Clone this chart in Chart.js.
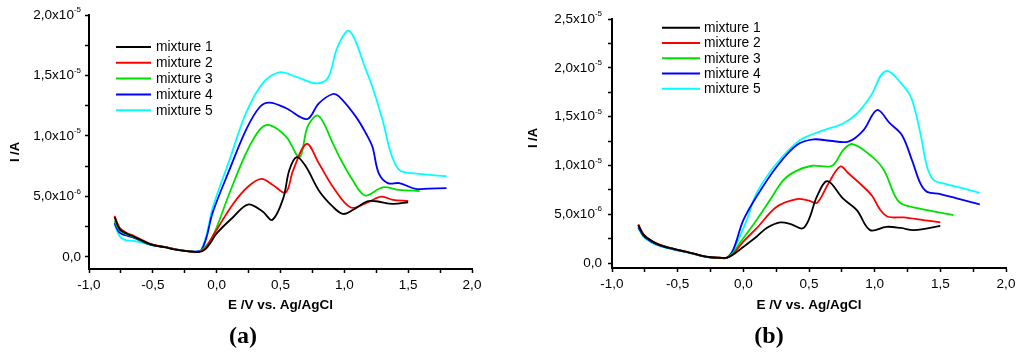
<!DOCTYPE html>
<html>
<head>
<meta charset="utf-8">
<script src="https://cdn.jsdelivr.net/npm/chart.js@4/dist/chart.umd.min.js"></script>
<style>
  html, body { margin: 0; padding: 0; background: #fff; }
  #wrap { position: relative; width: 1024px; height: 357px; overflow: hidden; }
  canvas { position: absolute; top: 0; }
  #ca { left: 0; }
  #cb { left: 512px; }
</style>
</head>
<body>
<div id="wrap">
  <canvas id="ca" width="512" height="357"></canvas>
  <canvas id="cb" width="512" height="357"></canvas>
</div>
<script>
// ---------- DATA (E in V vs Ag/AgCl, I in units of 1e-6 A) ----------
const seriesNames = ['mixture 1', 'mixture 2', 'mixture 3', 'mixture 4', 'mixture 5'];
const seriesColors = ['#000000', '#ff0000', '#00e000', '#0000ff', '#00ffff'];

// Panel (a)
const aE1 = [-0.80, -0.76, -0.70, -0.65, -0.52, -0.40, -0.31, -0.22, -0.14, -0.09, -0.04, 0.00, 0.13, 0.245, 0.36, 0.435, 0.52, 0.57, 0.628, 0.70, 0.80, 0.91, 0.99, 1.07, 1.18, 1.25, 1.38, 1.50];
const aI1 = [3.3, 2.3, 1.9, 1.68, 1.05, 0.78, 0.58, 0.46, 0.40, 0.62, 1.30, 1.95, 3.30, 4.33, 3.75, 3.06, 4.80, 7.20, 8.25, 7.45, 5.50, 4.15, 3.55, 3.90, 4.60, 4.60, 4.38, 4.52];
const aE2 = [-0.80, -0.76, -0.70, -0.65, -0.52, -0.40, -0.31, -0.22, -0.14, -0.09, -0.04, 0.00, 0.13, 0.245, 0.35, 0.44, 0.54, 0.60, 0.705, 0.80, 0.91, 1.05, 1.17, 1.29, 1.38, 1.50];
const aI2 = [3.4, 2.4, 1.95, 1.75, 1.08, 0.80, 0.60, 0.46, 0.42, 0.70, 1.55, 2.25, 4.40, 5.80, 6.45, 5.95, 5.32, 7.20, 9.35, 7.75, 5.80, 4.08, 4.45, 4.98, 4.72, 4.63];
const aE3 = [-0.80, -0.76, -0.70, -0.65, -0.52, -0.40, -0.31, -0.22, -0.14, -0.10, -0.03, 0.10, 0.23, 0.336, 0.414, 0.544, 0.650, 0.713, 0.797, 0.91, 0.96, 1.065, 1.164, 1.30, 1.43, 1.59];
const aI3 = [3.0, 2.2, 1.85, 1.65, 1.05, 0.80, 0.60, 0.46, 0.42, 0.70, 1.70, 5.26, 8.57, 10.50, 10.90, 9.94, 8.25, 10.80, 11.68, 9.39, 8.29, 6.36, 5.07, 5.75, 5.54, 5.45];
const aE4 = [-0.80, -0.76, -0.70, -0.65, -0.52, -0.40, -0.31, -0.22, -0.15, -0.12, -0.08, -0.03, 0.10, 0.23, 0.336, 0.414, 0.544, 0.708, 0.80, 0.91, 0.96, 1.09, 1.17, 1.22, 1.27, 1.34, 1.43, 1.56, 1.66, 1.80];
const aI4 = [2.8, 2.0, 1.75, 1.60, 1.02, 0.80, 0.60, 0.47, 0.45, 0.55, 1.60, 3.70, 7.19, 10.50, 12.37, 12.75, 12.29, 11.40, 12.70, 13.47, 13.25, 11.60, 10.20, 9.10, 6.90, 6.10, 6.10, 5.62, 5.65, 5.68];
const aE5 = [-0.80, -0.76, -0.72, -0.65, -0.52, -0.40, -0.31, -0.22, -0.15, -0.12, -0.08, -0.03, 0.10, 0.23, 0.36, 0.49, 0.62, 0.78, 0.87, 0.948, 1.04, 1.17, 1.22, 1.30, 1.365, 1.43, 1.53, 1.80];
const aI5 = [2.7, 1.7, 1.40, 1.32, 1.00, 0.78, 0.60, 0.48, 0.45, 0.60, 1.80, 4.10, 8.00, 11.90, 14.35, 15.26, 14.90, 14.35, 14.77, 17.38, 18.68, 15.45, 14.07, 11.30, 8.57, 7.19, 6.92, 6.67];

// Panel (b)
const bE1 = [-0.80, -0.76, -0.70, -0.634, -0.53, -0.43, -0.33, -0.25, -0.18, -0.126, -0.08, -0.025, 0.10, 0.178, 0.28, 0.36, 0.45, 0.50, 0.56, 0.64, 0.76, 0.864, 0.965, 1.09, 1.20, 1.30, 1.50];
const bI1 = [3.9, 2.9, 2.3, 1.85, 1.45, 1.15, 0.80, 0.60, 0.55, 0.55, 0.85, 1.40, 2.70, 3.60, 4.17, 4.00, 3.55, 4.50, 6.80, 8.40, 6.60, 5.43, 3.38, 3.72, 3.60, 3.38, 3.82];
const bE2 = [-0.80, -0.76, -0.70, -0.634, -0.53, -0.43, -0.33, -0.25, -0.18, -0.126, -0.08, 0.00, 0.10, 0.254, 0.407, 0.50, 0.562, 0.648, 0.738, 0.80, 0.90, 0.98, 1.04, 1.10, 1.22, 1.37, 1.50];
const bI2 = [3.95, 2.95, 2.3, 1.88, 1.47, 1.16, 0.80, 0.60, 0.55, 0.55, 0.90, 2.20, 3.55, 5.77, 6.56, 6.40, 6.18, 8.16, 9.90, 9.20, 8.00, 6.90, 5.50, 4.75, 4.68, 4.41, 4.17];
const bE3 = [-0.80, -0.76, -0.70, -0.634, -0.53, -0.43, -0.33, -0.25, -0.18, -0.126, -0.08, -0.03, 0.10, 0.20, 0.305, 0.396, 0.523, 0.675, 0.76, 0.833, 0.98, 1.07, 1.158, 1.209, 1.336, 1.60];
const bI3 = [3.9, 2.9, 2.3, 1.86, 1.46, 1.15, 0.80, 0.60, 0.55, 0.55, 1.00, 2.00, 4.40, 6.40, 8.50, 9.40, 9.97, 9.97, 11.58, 12.19, 10.90, 9.53, 6.80, 6.05, 5.60, 4.92];
const bE4 = [-0.80, -0.76, -0.70, -0.634, -0.53, -0.43, -0.33, -0.25, -0.18, -0.126, -0.076, 0.00, 0.10, 0.254, 0.407, 0.533, 0.66, 0.80, 0.914, 1.018, 1.117, 1.208, 1.284, 1.348, 1.399, 1.50, 1.625, 1.80];
const bI4 = [3.7, 2.8, 2.2, 1.80, 1.42, 1.12, 0.78, 0.58, 0.53, 0.55, 1.40, 4.40, 6.80, 9.87, 12.09, 12.67, 12.53, 12.45, 13.60, 15.68, 14.30, 13.10, 10.55, 8.16, 7.30, 7.07, 6.63, 6.01];
const bE5 = [-0.80, -0.76, -0.70, -0.634, -0.53, -0.43, -0.33, -0.25, -0.18, -0.126, -0.076, 0.026, 0.10, 0.254, 0.432, 0.609, 0.76, 0.864, 0.965, 1.085, 1.234, 1.285, 1.348, 1.399, 1.45, 1.545, 1.676, 1.80];
const bI5 = [3.6, 2.7, 2.1, 1.75, 1.38, 1.10, 0.76, 0.56, 0.52, 0.55, 1.33, 4.40, 7.14, 10.20, 12.60, 13.60, 14.30, 15.30, 17.00, 19.67, 17.90, 16.70, 13.30, 9.87, 8.50, 8.10, 7.65, 7.20];

// Axis ticks
const xTickValues = [-1.0, -0.5, 0.0, 0.5, 1.0, 1.5, 2.0];
const xTickLabels = ['-1,0', '-0,5', '0,0', '0,5', '1,0', '1,5', '2,0'];
const yTickValuesA = [0, 5, 10, 15, 20];
const yTickValuesB = [0, 5, 10, 15, 20, 25];
const yTickTextA = ['0,0', '5,0x10', '1,0x10', '1,5x10', '2,0x10'];
const yTickExpA = ['', '-6', '-5', '-5', '-5'];
const yTickTextB = ['0,0', '5,0x10', '1,0x10', '1,5x10', '2,0x10', '2,5x10'];
const yTickExpB = ['', '-6', '-5', '-5', '-5', '-5'];
const xAxisTitle = 'E /V vs. Ag/AgCl';
const yAxisTitle = 'I /A';

// ---------- helpers ----------
const FONT = '"Liberation Sans", Arial, sans-serif';
function withMinors(majors) {
  const out = [];
  for (let i = 0; i < majors.length; i++) {
    out.push(majors[i]);
    if (i < majors.length - 1) out.push((majors[i] + majors[i + 1]) / 2);
  }
  return out;
}
function buildDatasets(Es, Is) {
  return Es.map((E, k) => ({
    label: seriesNames[k],
    data: E.map((e, i) => ({ x: e, y: Is[k][i] })),
    borderColor: seriesColors[k],
    backgroundColor: seriesColors[k],
    borderWidth: 1.8,
    pointRadius: 0,
    fill: false,
    tension: 0.35
  }));
}

const overlayPlugin = {
  id: 'overlay',
  afterDraw(chart, args, o) {
    const ctx = chart.ctx;
    const ys = chart.scales.y;
    ctx.save();
    ctx.fillStyle = '#000';
    // y tick labels with superscript exponent
    o.yValues.forEach((v, i) => {
      const py = ys.getPixelForValue(v);
      let x = chart.chartArea.left - o.labelGap;
      const exp = o.yExp[i];
      if (exp) {
        ctx.font = '8px ' + FONT;
        ctx.textAlign = 'right';
        ctx.textBaseline = 'middle';
        ctx.fillText(exp, x, py - 5);
        x -= ctx.measureText(exp).width;
      }
      ctx.font = '13.5px ' + FONT;
      ctx.textAlign = 'right';
      ctx.textBaseline = 'middle';
      ctx.fillText(o.yText[i], x, py);
    });
    // y title
    ctx.save();
    ctx.translate(o.yTitleX, o.yTitleY);
    ctx.rotate(-Math.PI / 2);
    ctx.font = 'bold 13px ' + FONT;
    ctx.textAlign = 'center';
    ctx.textBaseline = 'middle';
    ctx.fillText(yAxisTitle, 0, 0);
    ctx.restore();
    // legend
    chart.data.datasets.forEach((ds, i) => {
      const y = o.legY + i * o.legDy;
      ctx.strokeStyle = ds.borderColor;
      ctx.lineWidth = 2;
      ctx.beginPath();
      ctx.moveTo(o.legX0, y);
      ctx.lineTo(o.legX1, y);
      ctx.stroke();
      ctx.fillStyle = '#000';
      ctx.font = '13.8px ' + FONT;
      ctx.textAlign = 'left';
      ctx.textBaseline = 'middle';
      ctx.fillText(ds.label, o.legText, y + 0.5);
    });
    // panel label
    ctx.font = 'bold 24px "Liberation Serif", "Times New Roman", serif';
    ctx.textAlign = 'center';
    ctx.textBaseline = 'middle';
    ctx.fillText(o.panel, o.panelX, o.panelY);
    ctx.restore();
  }
};

function makeChart(id, Es, Is, cfg) {
  const xTicksAll = withMinors(xTickValues);
  const yTicksAll = withMinors(cfg.yValues);
  return new Chart(document.getElementById(id), {
    type: 'line',
    data: { datasets: buildDatasets(Es, Is) },
    plugins: [overlayPlugin],
    options: {
      responsive: false,
      animation: false,
      devicePixelRatio: 1,
      layout: { padding: { left: 0, right: cfg.padRight, top: cfg.padTop, bottom: 0 } },
      plugins: {
        legend: { display: false },
        tooltip: { enabled: false },
        overlay: {
          yValues: cfg.yValues, yText: cfg.yText, yExp: cfg.yExp, labelGap: cfg.labelGap,
          yTitleX: cfg.yTitleX, yTitleY: cfg.yTitleY,
          legX0: cfg.legX0, legX1: cfg.legX1, legText: cfg.legText, legY: cfg.legY, legDy: cfg.legDy,
          panel: cfg.panel, panelX: cfg.panelX, panelY: cfg.panelY
        }
      },
      scales: {
        x: {
          type: 'linear',
          min: -1, max: 2,
          afterBuildTicks: (s) => { s.ticks = xTicksAll.map(v => ({ value: v })); },
          afterFit: (s) => { s.height = cfg.xHeight; },
          ticks: {
            autoSkip: false, maxRotation: 0, minRotation: 0, padding: 4,
            color: '#000', font: { family: FONT, size: 13.5 },
            callback: (v) => {
              const i = xTickValues.findIndex(t => Math.abs(t - v) < 1e-9);
              return i >= 0 ? xTickLabels[i] : '';
            }
          },
          grid: { drawOnChartArea: false, drawTicks: true, tickLength: 4, tickColor: '#000', tickWidth: 1.5 },
          border: { display: true, color: '#000', width: 2 },
          title: {
            display: true, text: xAxisTitle, color: '#000',
            font: { family: FONT, size: 13.5, weight: 'bold' },
            padding: { top: 0, bottom: 44 }
          }
        },
        y: {
          type: 'linear',
          min: cfg.yMin, max: cfg.yMax,
          afterBuildTicks: (s) => { s.ticks = yTicksAll.map(v => ({ value: v })); },
          afterFit: (s) => { s.width = cfg.yWidth; },
          ticks: { display: false },
          grid: { drawOnChartArea: false, drawTicks: true, tickLength: 4, tickColor: '#000', tickWidth: 1.5 },
          border: { display: true, color: '#000', width: 2 }
        }
      }
    }
  });
}

makeChart('ca', [aE1, aE2, aE3, aE4, aE5], [aI1, aI2, aI3, aI4, aI5], {
  yMin: -1, yMax: 20, yValues: yTickValuesA, yText: yTickTextA, yExp: yTickExpA,
  padRight: 40, padTop: 15, yWidth: 89, xHeight: 88, labelGap: 8,
  yTitleX: 15, yTitleY: 152,
  legX0: 116, legX1: 151, legText: 156, legY: 47, legDy: 15.8,
  panel: '(a)', panelX: 243, panelY: 337
});
makeChart('cb', [bE1, bE2, bE3, bE4, bE5], [bI1, bI2, bI3, bI4, bI5], {
  yMin: -0.5, yMax: 25, yValues: yTickValuesB, yText: yTickTextB, yExp: yTickExpB,
  padRight: 18, padTop: 19, yWidth: 100, xHeight: 89, labelGap: 10,
  yTitleX: 21, yTitleY: 138,
  legX0: 150, legX1: 188, legText: 192, legY: 27.7, legDy: 15.25,
  panel: '(b)', panelX: 257, panelY: 337
});
</script>
</body>
</html>
